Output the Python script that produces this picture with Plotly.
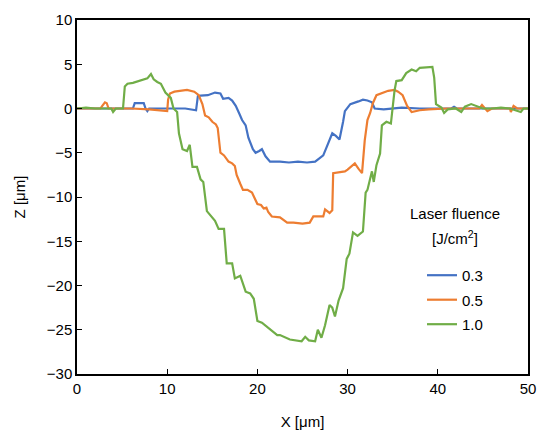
import plotly.graph_objects as go

# Blue: 0.3 J/cm2
x_03 = [0, 2, 4, 6.2, 6.4, 7.4, 7.6, 7.8, 8.0, 10, 12, 13.2, 13.4, 13.7, 14.5, 15.3, 15.9, 16.2, 16.8, 17.2, 17.6,
        18.0, 18.3, 18.7, 19.0, 19.5, 19.8, 20.2, 20.5, 20.9, 21.4, 22.5, 23.5, 24.5, 25.5, 26.4, 27.0, 27.3, 27.7,
        28.3, 28.7, 29.1, 29.5, 29.7, 30.3, 30.7, 31.2, 31.7, 32.2, 32.7, 33.0, 34, 36, 38, 40, 41.5, 41.8, 42.1,
        44, 46, 48, 50]
z_03 = [0, 0, 0, 0, 0.6, 0.6, 0, -0.3, 0, 0, 0, -0.2, 1.4, 1.45, 1.5, 1.8, 1.7, 1.1, 1.2, 0.9, 0.3,
        -0.6, -1.3, -1.9, -3.3, -4.6, -5.0, -4.8, -4.6, -5.4, -6.0, -6.0, -6.1, -6.0, -6.1, -6.0, -5.6, -5.3, -4.3,
        -2.8, -3.1, -3.5, -1.5, -0.3, 0.5, 0.6, 0.8, 1.0, 0.9, 0.7, 0.0, -0.1, 0.1, 0, 0, 0, 0.2, 0,
        0, 0, 0, 0]

# Orange: 0.5 J/cm2
x_05 = [0, 2.6, 2.8, 3.1, 3.3, 3.5, 4, 6, 8, 9.8, 10.0, 10.1, 10.3, 10.8, 11.5, 12.2, 13.0, 13.5, 13.9, 14.2,
        14.6, 15.0, 15.4, 15.6, 15.9, 16.3, 16.8, 17.2, 17.5, 17.7, 18.1, 18.4, 18.9, 19.4, 20.0, 20.4, 20.7, 21.0,
        21.2, 21.6, 22.5, 23.3, 24, 25, 25.8, 26.2, 27.3, 27.5, 28.0, 28.3, 28.4, 29.0, 29.7, 30.0, 30.5, 30.8,
        31.2, 31.6, 31.9, 32.2, 32.5, 32.8, 33.2, 33.9, 34.5, 35.2, 35.6, 36.1, 36.6, 37.1, 38, 39, 41, 43, 44.6,
        44.9, 45.2, 45.5, 46, 48, 48.1, 48.4, 48.8, 50]
z_05 = [0, 0, 0.3, 0.7, 0.6, 0, 0, 0, -0.1, -0.3, -0.3, 1.0, 1.7, 1.9, 2.0, 2.1, 1.9, 1.5, 0.5, -0.8,
        -1.0, -1.5, -1.8, -2.2, -5.0, -5.3, -6.0, -6.2, -6.5, -7.5, -8.5, -9.2, -9.2, -9.5, -10.8, -10.9, -11.3, -11.2,
        -11.7, -12.2, -12.3, -12.9, -12.9, -13.0, -12.9, -12.2, -12.2, -11.4, -11.8, -11.5, -7.3, -7.2, -7.1, -6.9, -6.4, -6.2,
        -6.8, -7.3, -3.6, -1.3, -0.5, 0.6, 1.5, 1.8, 2.0, 2.1, 1.9, 1.5, 0.3, -0.4, -0.2, -0.1, 0, 0, 0,
        0.4, 0, -0.3, 0, 0, -0.4, 0.3, 0, 0]

# Green: 1.0 J/cm2
x_10 = [0, 1, 2, 3, 3.8, 4.0, 4.3, 5.0, 5.1, 5.3, 5.6, 6.2, 6.8, 7.3, 7.8, 8.2, 8.5, 8.9, 9.3, 9.8, 10.4, 10.7,
        11.1, 11.3, 11.7, 12.2, 12.5, 12.8, 13.3, 13.7, 14.0, 14.4, 15.0, 15.3, 15.7, 16.3, 16.6, 17.2, 17.5, 18.1,
        18.7, 19.2, 19.6, 20.0, 20.5, 21.0, 21.4, 22.2, 22.5, 23.6, 24.9, 25.3, 25.7, 26.4, 26.7, 27.1, 27.5, 28.0,
        28.3, 28.6, 29.0, 29.5, 29.9, 30.2, 30.6, 31.1, 31.7, 32.0, 32.2, 32.7, 32.9, 33.2, 33.6, 33.8, 34.3, 34.8,
        35.2, 35.4, 36.0, 36.5, 37.1, 37.6, 38.0, 39.4, 39.6, 39.8, 40.4, 40.7, 41.1, 42, 42.6, 43, 43.7, 44.6,
        45, 46, 47, 48, 49.2, 49.5, 50]
z_10 = [0, 0.1, 0, 0, 0, -0.4, 0, 0, 0.0, 2.5, 2.8, 2.9, 3.1, 3.3, 3.4, 3.9, 3.3, 3.0, 2.8, 1.8, 1.2, 0,
        -0.4, -2.8, -4.6, -4.8, -4.1, -6.6, -6.6, -8.0, -8.3, -11.6, -12.3, -12.7, -13.6, -13.6, -17.5, -17.5, -19.2, -18.9,
        -20.7, -20.9, -21.5, -24.0, -24.2, -24.6, -25.0, -25.6, -25.6, -26.1, -26.3, -25.8, -26.2, -26.3, -25.0, -25.9, -24.5, -22.2,
        -22.5, -23.5, -21.7, -20.3, -17.0, -16.4, -14.0, -14.4, -13.9, -9.5, -9.2, -7.1, -8.3, -6.4, -5.1, -1.9, -1.5, -1.7,
        2.0, 3.1, 3.2, 4.0, 4.4, 4.2, 4.6, 4.7, 3.5, 0.5, 0.1, -0.5, -0.1, 0, -0.4, 0.2, 0.5, 0.1,
        0, 0, 0.1, 0, -0.4, 0, 0]

series_names = ["0.3", "0.5", "1.0"]
colors = ["#4472C4", "#ED7D31", "#70AD47"]
x_ticks = [0, 10, 20, 30, 40, 50]
y_ticks = [10, 5, 0, -5, -10, -15, -20, -25, -30]

FONT = "Liberation Sans, Arial, sans-serif"

fig = go.Figure()
for name, xs, zs, c in zip(series_names, [x_03, x_05, x_10], [z_03, z_05, z_10], colors):
    fig.add_trace(go.Scatter(x=xs, y=zs, mode="lines", name=name, legendgroup=name,
                             line=dict(color=c, width=2.2)))

axis_common = dict(showline=True, linecolor="black", linewidth=1.5, mirror=True,
                   ticks="inside", ticklen=5, tickwidth=1, tickcolor="black",
                   showgrid=False, zeroline=False, automargin=False,
                   tickfont=dict(family=FONT, size=15, color="black"))

fig.update_xaxes(range=[0, 50], tickvals=x_ticks,
                 title=dict(text="X [μm]", font=dict(family=FONT, size=15, color="black"), standoff=21),
                 **axis_common)
fig.update_yaxes(range=[-30, 10], tickvals=y_ticks,
                 title=dict(text="Z [μm]", font=dict(family=FONT, size=15, color="black"), standoff=18),
                 **axis_common)

# legend title lines
fig.add_annotation(text="Laser fluence", xref="paper", yref="paper",
                   x=(455 - 77) / 451, y=(374 - 213) / 354, xanchor="center", yanchor="middle",
                   showarrow=False, font=dict(family=FONT, size=15, color="black"))
fig.add_annotation(text="[J/cm<sup>2</sup>]", xref="paper", yref="paper",
                   x=(455 - 77) / 451, y=(374 - 237) / 354, xanchor="center", yanchor="middle",
                   showarrow=False, font=dict(family=FONT, size=15, color="black"))

fig.update_layout(
    width=541, height=432,
    margin=dict(l=77, r=13, t=20, b=58),
    paper_bgcolor="white", plot_bgcolor="white",
    showlegend=True,
    legend=dict(x=0.765, y=0.325, xanchor="left", yanchor="top", traceorder="grouped",
                bgcolor="rgba(0,0,0,0)", font=dict(family=FONT, size=15, color="black"),
                tracegroupgap=2),
)

fig.write_html(
    "out.html",
    config={"displayModeBar": False},
    post_script="document.body.style.margin='0';document.body.style.overflow='hidden';",
)
